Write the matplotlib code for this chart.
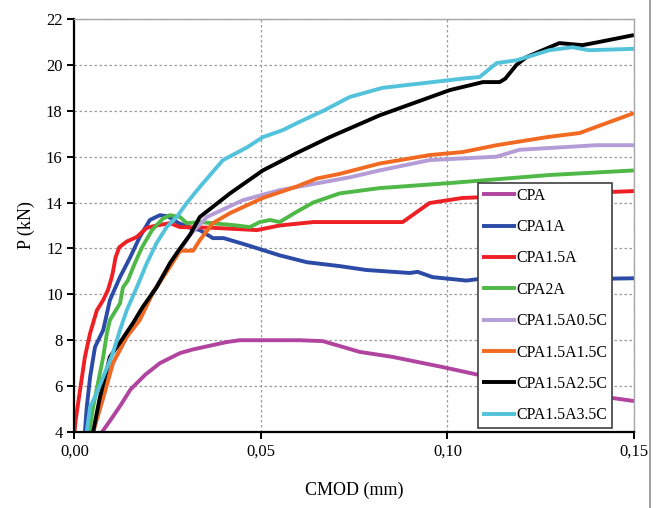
import numpy as np
import matplotlib.pyplot as plt
from matplotlib.ticker import FuncFormatter
from matplotlib.lines import Line2D

plt.rcParams['font.family'] = ['Liberation Serif', 'DejaVu Serif']

# CMOD (mm) / P (kN)
cpa_x = [0.0074, 0.0100, 0.0125, 0.0150, 0.0190, 0.0229, 0.0283, 0.0318, 0.0408, 0.0443, 0.0515,
         0.0604, 0.0666, 0.0765, 0.0854, 0.0987, 0.1086, 0.1250, 0.1443, 0.150]
cpa_y = [4.0, 4.6, 5.2, 5.85, 6.5, 7.0, 7.44, 7.6, 7.92, 8.0, 8.0,
         8.0, 7.96, 7.49, 7.27, 6.83, 6.48, 5.95, 5.48, 5.35]

a1_x = [0.0028, 0.0033, 0.0042, 0.0055, 0.0077, 0.0095, 0.0122, 0.0149, 0.0175, 0.0202, 0.0229,
        0.025, 0.028, 0.031, 0.0336, 0.0371, 0.040, 0.0462, 0.055, 0.0623, 0.0711, 0.0783,
        0.0899, 0.092, 0.096, 0.1051, 0.110, 0.130, 0.150]
a1_y = [4.0, 5.09, 6.4, 7.7, 8.44, 9.75, 10.75, 11.6, 12.5, 13.24, 13.45,
        13.4, 13.1, 12.9, 12.8, 12.45, 12.45, 12.15, 11.7, 11.4, 11.23, 11.06,
        10.93, 10.98, 10.75, 10.6, 10.7, 10.65, 10.7]

a15_x = [0.0, 0.0003, 0.0015, 0.0028, 0.0042, 0.006, 0.0077, 0.009, 0.0100, 0.0104, 0.0110,
         0.0120, 0.014, 0.0167, 0.0194, 0.022, 0.0256, 0.0283, 0.0371, 0.0489, 0.055, 0.064,
         0.0711, 0.088, 0.0952, 0.104, 0.120, 0.1434, 0.150]
a15_y = [4.0, 4.5, 5.83, 7.27, 8.31, 9.3, 9.75, 10.2, 10.75, 11.05, 11.6,
         12.05, 12.3, 12.5, 12.9, 13.0, 13.1, 12.93, 12.9, 12.8, 13.0, 13.15,
         13.15, 13.15, 13.98, 14.2, 14.3, 14.46, 14.5]

a2_x = [0.004, 0.005, 0.0063, 0.0077, 0.0087, 0.0095, 0.0122, 0.013, 0.0143, 0.0162, 0.0181,
        0.0208, 0.0237, 0.0256, 0.0283, 0.0301, 0.0336, 0.0371, 0.0435, 0.047, 0.0497, 0.0524,
        0.055, 0.0596, 0.064, 0.0711, 0.0818, 0.1006, 0.1273, 0.150]
a2_y = [4.0, 5.09, 6.13, 7.27, 8.31, 8.88, 9.6, 10.3, 10.6, 11.36, 12.05,
        12.8, 13.3, 13.45, 13.37, 13.1, 13.15, 13.1, 13.0, 12.93, 13.15, 13.24,
        13.15, 13.6, 14.0, 14.4, 14.63, 14.85, 15.2, 15.4]

c05_x = [0.005, 0.0077, 0.0103, 0.014, 0.0175, 0.021, 0.0256, 0.0283, 0.031, 0.0355, 0.0451,
         0.055, 0.0738, 0.0818, 0.0952, 0.1132, 0.1193, 0.140, 0.150]
c05_y = [4.0, 5.5, 7.0, 8.14, 8.9, 10.1, 11.3, 11.9, 12.6, 13.37, 14.1,
         14.54, 15.1, 15.4, 15.85, 16.0, 16.3, 16.5, 16.5]

c15_x = [0.005, 0.0077, 0.0103, 0.014, 0.0175, 0.021, 0.0256, 0.0283, 0.0318, 0.0336, 0.0371,
         0.0417, 0.0505, 0.0596, 0.065, 0.0711, 0.0818, 0.0952, 0.104, 0.1132, 0.1266, 0.1354, 0.150]
c15_y = [4.0, 5.5, 7.0, 8.14, 8.88, 10.06, 11.2, 11.9, 11.9, 12.36, 13.1,
         13.54, 14.2, 14.7, 15.05, 15.25, 15.7, 16.07, 16.2, 16.5, 16.85, 17.03, 17.9]

c25_x = [0.005, 0.0068, 0.0095, 0.0122, 0.0157, 0.0183, 0.022, 0.0256, 0.0283, 0.031, 0.0336,
         0.0417, 0.0505, 0.0596, 0.0684, 0.0818, 0.1006, 0.1095, 0.114, 0.1155, 0.1185, 0.1212,
         0.130, 0.1362, 0.1407, 0.150]
c25_y = [4.0, 5.5, 7.27, 7.9, 8.75, 9.45, 10.3, 11.36, 12.0, 12.6, 13.37,
         14.4, 15.4, 16.16, 16.85, 17.8, 18.9, 19.25, 19.25, 19.4, 20.0, 20.34,
         20.95, 20.86, 21.0, 21.3]

c35_x = [0.0033, 0.0042, 0.006, 0.0077, 0.0103, 0.0122, 0.014, 0.0167, 0.0194, 0.022, 0.0247,
         0.0274, 0.0301, 0.0336, 0.0398, 0.0462, 0.0505, 0.0559, 0.0596, 0.0667, 0.0738, 0.0826,
         0.096, 0.1051, 0.1086, 0.1132, 0.1185, 0.1273, 0.1335, 0.138, 0.150]
c35_y = [4.0, 5.1, 5.7, 6.4, 7.44, 8.44, 9.3, 10.3, 11.36, 12.23, 12.93,
         13.37, 13.98, 14.68, 15.85, 16.4, 16.85, 17.16, 17.46, 18.0, 18.6, 19.0,
         19.25, 19.42, 19.47, 20.08, 20.2, 20.64, 20.77, 20.64, 20.7]

series = [
    ('CPA', cpa_x, cpa_y, '#B0449F'),
    ('CPA1A', a1_x, a1_y, '#2B4BA6'),
    ('CPA1.5A', a15_x, a15_y, '#EE2026'),
    ('CPA2A', a2_x, a2_y, '#4FB847'),
    ('CPA1.5A0.5C', c05_x, c05_y, '#B49CD6'),
    ('CPA1.5A1.5C', c15_x, c15_y, '#F26A21'),
    ('CPA1.5A2.5C', c25_x, c25_y, '#000000'),
    ('CPA1.5A3.5C', c35_x, c35_y, '#52C3DB'),
]

fig = plt.figure(figsize=(6.59, 5.08), dpi=100)
ax = fig.add_axes([0.113, 0.1496, 0.849, 0.813])

for name, x, y, c in series:
    ax.plot(x, y, color=c, lw=2.8, label=name, solid_capstyle='butt')

ax.set_xlim(0, 0.15)
ax.set_ylim(4, 22)
ax.set_xticks([0, 0.05, 0.10, 0.15])
ax.set_yticks(np.arange(4, 23, 2))
ax.xaxis.set_major_formatter(FuncFormatter(lambda v, p: ('%.2f' % v).replace('.', ',')))
ax.grid(True, color='#9A9A9A', ls=(0, (2, 2)), lw=0.9)
ax.set_axisbelow(True)

for s in ['top', 'right']:
    ax.spines[s].set_color('#A8A8A8')
    ax.spines[s].set_linewidth(1.0)
for s in ['left', 'bottom']:
    ax.spines[s].set_color('black')
    ax.spines[s].set_linewidth(1.6)
ax.tick_params(direction='out', length=5, width=1.4, labelsize=12, colors='black')

ax.set_xlabel('CMOD (mm)', fontsize=13, labelpad=16)
ax.set_ylabel('P (kN)', fontsize=13, labelpad=8)

leg = ax.legend(loc='lower right', bbox_to_anchor=(0.961, 0.0097), borderaxespad=0,
                prop={'size': 11.4}, frameon=True, fancybox=False, labelspacing=0.97,
                handlelength=2.1, handletextpad=0.05, borderpad=0.3, framealpha=1.0)
leg.get_frame().set_edgecolor('#404040')
leg.get_frame().set_linewidth(1.2)

fig.add_artist(Line2D([0.987, 0.987], [0, 1], transform=fig.transFigure, color='#909090', lw=1.2))

fig.savefig('out.png', dpi=100)
